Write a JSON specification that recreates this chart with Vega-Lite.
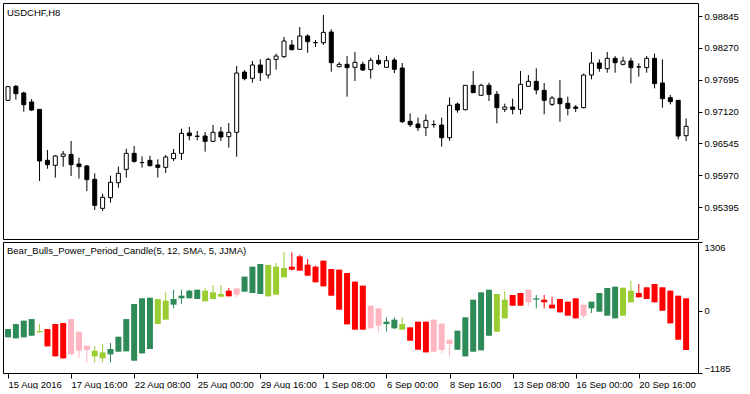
{
"$schema": "https://vega.github.io/schema/vega-lite/v6.json",
"padding": {"left": 2, "top": 2, "right": 0, "bottom": 0},
"background": "white",
"spacing": 3,
"bounds": "flush",
"config": {
  "view": {"stroke": "black", "strokeWidth": 1},
  "axis": {"labelFont": "Liberation Sans", "labelFontSize": 9.5, "labelColor": "black", "tickColor": "black", "domain": false, "grid": false, "title": null, "tickSize": 4, "labelPadding": 2, "labelOverlap": false},
  "title": {"font": "Liberation Sans", "fontSize": 9.5, "fontWeight": "normal", "color": "black", "anchor": "start", "frame": "group"}
},
"datasets": {
"ohlc": [
{"i":0,"o":0.97322,"h":0.97581,"l":0.97310,"c":0.97569},
{"i":1,"o":0.97575,"h":0.97599,"l":0.97334,"c":0.97442},
{"i":2,"o":0.97454,"h":0.97478,"l":0.97117,"c":0.97243},
{"i":3,"o":0.97292,"h":0.97346,"l":0.97129,"c":0.97147},
{"i":4,"o":0.97159,"h":0.97159,"l":0.95865,"c":0.96226},
{"i":5,"o":0.96238,"h":0.96425,"l":0.96087,"c":0.96160},
{"i":6,"o":0.96148,"h":0.96334,"l":0.95925,"c":0.96316},
{"i":7,"o":0.96310,"h":0.96406,"l":0.96124,"c":0.96352},
{"i":8,"o":0.96346,"h":0.96587,"l":0.95955,"c":0.96160},
{"i":9,"o":0.96172,"h":0.96286,"l":0.95907,"c":0.96124},
{"i":10,"o":0.96136,"h":0.96154,"l":0.95684,"c":0.95889},
{"i":11,"o":0.95895,"h":0.96003,"l":0.95341,"c":0.95425},
{"i":12,"o":0.95371,"h":0.95636,"l":0.95323,"c":0.95570},
{"i":13,"o":0.95564,"h":0.95961,"l":0.95473,"c":0.95841},
{"i":14,"o":0.95835,"h":0.96124,"l":0.95744,"c":0.96003},
{"i":15,"o":0.96075,"h":0.96449,"l":0.95925,"c":0.96364},
{"i":16,"o":0.96364,"h":0.96497,"l":0.96196,"c":0.96220},
{"i":17,"o":0.96199,"h":0.96310,"l":0.96105,"c":0.96196},
{"i":18,"o":0.96238,"h":0.96322,"l":0.96124,"c":0.96142},
{"i":19,"o":0.96154,"h":0.96256,"l":0.95925,"c":0.96111},
{"i":20,"o":0.96111,"h":0.96334,"l":0.96009,"c":0.96298},
{"i":21,"o":0.96268,"h":0.96443,"l":0.96226,"c":0.96364},
{"i":22,"o":0.96364,"h":0.96810,"l":0.96244,"c":0.96726},
{"i":23,"o":0.96732,"h":0.96840,"l":0.96599,"c":0.96683},
{"i":24,"o":0.96674,"h":0.96768,"l":0.96599,"c":0.96671},
{"i":25,"o":0.96677,"h":0.96750,"l":0.96394,"c":0.96581},
{"i":26,"o":0.96581,"h":0.96876,"l":0.96581,"c":0.96744},
{"i":27,"o":0.96750,"h":0.96840,"l":0.96587,"c":0.96659},
{"i":28,"o":0.96665,"h":0.96912,"l":0.96467,"c":0.96744},
{"i":29,"o":0.96744,"h":0.97942,"l":0.96304,"c":0.97815},
{"i":30,"o":0.97833,"h":0.97870,"l":0.97683,"c":0.97713},
{"i":31,"o":0.97719,"h":0.98032,"l":0.97641,"c":0.97960},
{"i":32,"o":0.97960,"h":0.98062,"l":0.97671,"c":0.97821},
{"i":33,"o":0.97779,"h":0.98092,"l":0.97713,"c":0.98062},
{"i":34,"o":0.98062,"h":0.98165,"l":0.97876,"c":0.98122},
{"i":35,"o":0.98110,"h":0.98466,"l":0.98092,"c":0.98393},
{"i":36,"o":0.98321,"h":0.98411,"l":0.98225,"c":0.98237},
{"i":37,"o":0.98243,"h":0.98646,"l":0.98243,"c":0.98484},
{"i":38,"o":0.98484,"h":0.98514,"l":0.98183,"c":0.98381},
{"i":39,"o":0.98366,"h":0.98411,"l":0.98285,"c":0.98363},
{"i":40,"o":0.98363,"h":0.98863,"l":0.98321,"c":0.98550},
{"i":41,"o":0.98556,"h":0.98604,"l":0.97839,"c":0.98002},
{"i":42,"o":0.97930,"h":0.98014,"l":0.97918,"c":0.97972},
{"i":43,"o":0.97972,"h":0.98122,"l":0.97388,"c":0.97912},
{"i":44,"o":0.97918,"h":0.98195,"l":0.97671,"c":0.98008},
{"i":45,"o":0.97972,"h":0.98020,"l":0.97852,"c":0.97870},
{"i":46,"o":0.97876,"h":0.98092,"l":0.97713,"c":0.98044},
{"i":47,"o":0.98044,"h":0.98141,"l":0.97960,"c":0.97984},
{"i":48,"o":0.97918,"h":0.98122,"l":0.97918,"c":0.98038},
{"i":49,"o":0.98050,"h":0.98092,"l":0.97815,"c":0.97882},
{"i":50,"o":0.97906,"h":0.97996,"l":0.96912,"c":0.96936},
{"i":51,"o":0.96942,"h":0.97087,"l":0.96840,"c":0.96882},
{"i":52,"o":0.96894,"h":0.97009,"l":0.96768,"c":0.96828},
{"i":53,"o":0.96828,"h":0.97069,"l":0.96677,"c":0.96960},
{"i":54,"o":0.96885,"h":0.96960,"l":0.96828,"c":0.96882},
{"i":55,"o":0.96876,"h":0.97009,"l":0.96485,"c":0.96647},
{"i":56,"o":0.96647,"h":0.97376,"l":0.96593,"c":0.97231},
{"i":57,"o":0.97255,"h":0.97280,"l":0.97099,"c":0.97147},
{"i":58,"o":0.97153,"h":0.97593,"l":0.97141,"c":0.97593},
{"i":59,"o":0.97593,"h":0.97852,"l":0.97460,"c":0.97460},
{"i":60,"o":0.97412,"h":0.97623,"l":0.97412,"c":0.97593},
{"i":61,"o":0.97593,"h":0.97641,"l":0.97310,"c":0.97430},
{"i":62,"o":0.97430,"h":0.97490,"l":0.96906,"c":0.97189},
{"i":63,"o":0.97159,"h":0.97261,"l":0.97111,"c":0.97201},
{"i":64,"o":0.97201,"h":0.97352,"l":0.97069,"c":0.97159},
{"i":65,"o":0.97159,"h":0.97852,"l":0.97069,"c":0.97611},
{"i":66,"o":0.97575,"h":0.97779,"l":0.97575,"c":0.97665},
{"i":67,"o":0.97665,"h":0.97900,"l":0.97430,"c":0.97508},
{"i":68,"o":0.97502,"h":0.97635,"l":0.97069,"c":0.97322},
{"i":69,"o":0.97249,"h":0.97400,"l":0.97219,"c":0.97364},
{"i":70,"o":0.97358,"h":0.97689,"l":0.96936,"c":0.97261},
{"i":71,"o":0.97268,"h":0.97388,"l":0.97051,"c":0.97177},
{"i":72,"o":0.97201,"h":0.97237,"l":0.97111,"c":0.97177},
{"i":73,"o":0.97189,"h":0.97803,"l":0.97177,"c":0.97779},
{"i":74,"o":0.97779,"h":0.98195,"l":0.97701,"c":0.97996},
{"i":75,"o":0.97996,"h":0.98062,"l":0.97839,"c":0.97900},
{"i":76,"o":0.97894,"h":0.98195,"l":0.97821,"c":0.98080},
{"i":77,"o":0.98080,"h":0.98122,"l":0.97821,"c":0.98002},
{"i":78,"o":0.97972,"h":0.98110,"l":0.97954,"c":0.98032},
{"i":79,"o":0.98032,"h":0.98092,"l":0.97629,"c":0.97912},
{"i":80,"o":0.97927,"h":0.97990,"l":0.97749,"c":0.97924},
{"i":81,"o":0.97912,"h":0.98122,"l":0.97821,"c":0.98080},
{"i":82,"o":0.98080,"h":0.98165,"l":0.97538,"c":0.97623},
{"i":83,"o":0.97635,"h":0.98062,"l":0.97189,"c":0.97352},
{"i":84,"o":0.97370,"h":0.97418,"l":0.97249,"c":0.97298},
{"i":85,"o":0.97322,"h":0.97322,"l":0.96617,"c":0.96677},
{"i":86,"o":0.96683,"h":0.96996,"l":0.96587,"c":0.96852}
],
"ind": [
{"i":0,"o":-507,"c":-349,"h":-349,"l":-507,"k":"DG"},
{"i":1,"o":-526,"c":-254,"h":-254,"l":-526,"k":"DG"},
{"i":2,"o":-507,"c":-190,"h":-190,"l":-507,"k":"DG"},
{"i":3,"o":-476,"c":-159,"h":-159,"l":-476,"k":"DG"},
{"i":4,"o":-412,"c":-387,"h":-254,"l":-412,"k":"YG"},
{"i":5,"o":-349,"c":-678,"h":-349,"l":-678,"k":"R"},
{"i":6,"o":-254,"c":-869,"h":-254,"l":-869,"k":"R"},
{"i":7,"o":-235,"c":-907,"h":-235,"l":-907,"k":"R"},
{"i":8,"o":-159,"c":-831,"h":-159,"l":-831,"k":"P"},
{"i":9,"o":-399,"c":-761,"h":-399,"l":-907,"k":"P"},
{"i":10,"o":-666,"c":-748,"h":-666,"l":-983,"k":"P"},
{"i":11,"o":-869,"c":-761,"h":-678,"l":-983,"k":"YG"},
{"i":12,"o":-907,"c":-793,"h":-634,"l":-983,"k":"YG"},
{"i":13,"o":-831,"c":-729,"h":-615,"l":-983,"k":"DG"},
{"i":14,"o":-780,"c":-495,"h":-495,"l":-780,"k":"DG"},
{"i":15,"o":-773,"c":-159,"h":-159,"l":-773,"k":"DG"},
{"i":16,"o":-951,"c":127,"h":127,"l":-951,"k":"DG"},
{"i":17,"o":-812,"c":235,"h":235,"l":-812,"k":"DG"},
{"i":18,"o":-729,"c":247,"h":247,"l":-729,"k":"DG"},
{"i":19,"o":-254,"c":222,"h":222,"l":-254,"k":"YG"},
{"i":20,"o":-171,"c":190,"h":349,"l":-171,"k":"YG"},
{"i":21,"o":114,"c":222,"h":399,"l":44,"k":"DG"},
{"i":22,"o":235,"c":285,"h":399,"l":127,"k":"DG"},
{"i":23,"o":235,"c":380,"h":399,"l":235,"k":"DG"},
{"i":24,"o":222,"c":399,"h":399,"l":222,"k":"DG"},
{"i":25,"o":178,"c":380,"h":425,"l":178,"k":"YG"},
{"i":26,"o":222,"c":349,"h":488,"l":222,"k":"YG"},
{"i":27,"o":266,"c":317,"h":488,"l":266,"k":"YG"},
{"i":28,"o":380,"c":273,"h":431,"l":273,"k":"R"},
{"i":29,"o":425,"c":304,"h":425,"l":254,"k":"P"},
{"i":30,"o":361,"c":647,"h":647,"l":361,"k":"DG"},
{"i":31,"o":336,"c":837,"h":837,"l":336,"k":"DG"},
{"i":32,"o":317,"c":888,"h":888,"l":317,"k":"DG"},
{"i":33,"o":273,"c":869,"h":869,"l":273,"k":"YG"},
{"i":34,"o":304,"c":837,"h":907,"l":304,"k":"YG"},
{"i":35,"o":634,"c":812,"h":1110,"l":634,"k":"YG"},
{"i":36,"o":837,"c":780,"h":1110,"l":767,"k":"R"},
{"i":37,"o":1033,"c":761,"h":1065,"l":761,"k":"R"},
{"i":38,"o":875,"c":666,"h":983,"l":666,"k":"R"},
{"i":39,"o":837,"c":539,"h":856,"l":539,"k":"R"},
{"i":40,"o":951,"c":463,"h":951,"l":463,"k":"R"},
{"i":41,"o":793,"c":285,"h":793,"l":285,"k":"R"},
{"i":42,"o":780,"c":19,"h":780,"l":19,"k":"R"},
{"i":43,"o":716,"c":-260,"h":716,"l":-260,"k":"R"},
{"i":44,"o":552,"c":-361,"h":552,"l":-361,"k":"R"},
{"i":45,"o":476,"c":-361,"h":476,"l":-361,"k":"R"},
{"i":46,"o":95,"c":-336,"h":95,"l":-336,"k":"P"},
{"i":47,"o":44,"c":-285,"h":44,"l":-412,"k":"P"},
{"i":48,"o":-254,"c":-209,"h":-127,"l":-399,"k":"DG"},
{"i":49,"o":-336,"c":-171,"h":-127,"l":-349,"k":"DG"},
{"i":50,"o":-361,"c":-254,"h":-127,"l":-361,"k":"YG"},
{"i":51,"o":-317,"c":-571,"h":-317,"l":-571,"k":"R"},
{"i":52,"o":-209,"c":-742,"h":-209,"l":-742,"k":"R"},
{"i":53,"o":-209,"c":-793,"h":-209,"l":-793,"k":"R"},
{"i":54,"o":-171,"c":-780,"h":-171,"l":-780,"k":"P"},
{"i":55,"o":-247,"c":-748,"h":-247,"l":-818,"k":"P"},
{"i":56,"o":-552,"c":-634,"h":-552,"l":-869,"k":"P"},
{"i":57,"o":-742,"c":-380,"h":-380,"l":-742,"k":"DG"},
{"i":58,"o":-869,"c":-127,"h":-127,"l":-869,"k":"DG"},
{"i":59,"o":-780,"c":209,"h":209,"l":-780,"k":"DG"},
{"i":60,"o":-754,"c":349,"h":349,"l":-754,"k":"DG"},
{"i":61,"o":-476,"c":399,"h":399,"l":-476,"k":"DG"},
{"i":62,"o":-399,"c":317,"h":317,"l":-399,"k":"YG"},
{"i":63,"o":-146,"c":209,"h":361,"l":-146,"k":"YG"},
{"i":64,"o":298,"c":95,"h":298,"l":95,"k":"R"},
{"i":65,"o":336,"c":95,"h":336,"l":95,"k":"R"},
{"i":66,"o":399,"c":159,"h":399,"l":82,"k":"P"},
{"i":67,"o":209,"c":235,"h":298,"l":44,"k":"DG"},
{"i":68,"o":209,"c":159,"h":298,"l":44,"k":"R"},
{"i":69,"o":114,"c":44,"h":266,"l":44,"k":"R"},
{"i":70,"o":222,"c":-32,"h":222,"l":-32,"k":"R"},
{"i":71,"o":171,"c":-95,"h":171,"l":-95,"k":"R"},
{"i":72,"o":235,"c":-146,"h":235,"l":-146,"k":"R"},
{"i":73,"o":114,"c":-95,"h":114,"l":-139,"k":"P"},
{"i":74,"o":44,"c":171,"h":171,"l":-44,"k":"DG"},
{"i":75,"o":-19,"c":336,"h":336,"l":-19,"k":"DG"},
{"i":76,"o":-95,"c":431,"h":431,"l":-95,"k":"DG"},
{"i":77,"o":-146,"c":456,"h":456,"l":-146,"k":"DG"},
{"i":78,"o":-95,"c":437,"h":437,"l":-95,"k":"YG"},
{"i":79,"o":159,"c":380,"h":571,"l":159,"k":"YG"},
{"i":80,"o":336,"c":254,"h":507,"l":254,"k":"R"},
{"i":81,"o":444,"c":222,"h":444,"l":222,"k":"R"},
{"i":82,"o":507,"c":159,"h":507,"l":159,"k":"R"},
{"i":83,"o":444,"c":0,"h":444,"l":0,"k":"R"},
{"i":84,"o":380,"c":-241,"h":380,"l":-241,"k":"R"},
{"i":85,"o":285,"c":-552,"h":285,"l":-552,"k":"R"},
{"i":86,"o":235,"c":-748,"h":235,"l":-748,"k":"R"}
]
},
"vconcat": [
{
  "width": 695, "height": 236,
  "title": {"text": "USDCHF,H8", "offset": -16, "dx": 4, "dy": -2},
  "data": {"name": "ohlc"},
  "encoding": {"x": {"field": "i", "type": "quantitative", "scale": {"domain": [0, 86.875], "nice": false, "zero": false}, "axis": null}},
  "layer": [
    {"mark": {"type": "rule", "color": "black", "strokeWidth": 1, "clip": true},
     "encoding": {"y": {"field": "l", "type": "quantitative", "scale": {"domain": [0.94817, 0.9908], "nice": false, "zero": false},
       "axis": {"orient": "right", "values": [0.98845, 0.98270, 0.97695, 0.97120, 0.96545, 0.95970, 0.95395], "format": ".5f", "labelOverlap": false, "labelBound": false}},
       "y2": {"field": "h"}}},
    {"mark": {"type": "bar", "size": 4, "stroke": "black", "strokeWidth": 1, "clip": true},
     "encoding": {"y": {"field": "o", "type": "quantitative", "axis": {"orient": "right", "values": [0.98845, 0.98270, 0.97695, 0.97120, 0.96545, 0.95970, 0.95395], "format": ".5f", "labelOverlap": false}}, "y2": {"field": "c"},
       "fill": {"condition": {"test": "datum.c >= datum.o", "value": "white"}, "value": "black"}}}
  ]
},
{
  "width": 695, "height": 131,
  "title": {"text": "Bear_Bulls_Power_Period_Candle(5, 12, SMA, 5, JJMA)", "offset": -16, "dx": 4, "dy": -2},
  "data": {"name": "ind"},
  "encoding": {"x": {"field": "i", "type": "quantitative", "scale": {"domain": [0, 86.875], "nice": false, "zero": false},
     "axis": {"values": [0, 8, 16, 24, 32, 40, 48, 56, 64, 72, 80], "labelAlign": "left", "tickSize": 5, "labelPadding": 1, "labelOverlap": false, "labelFlush": false,
       "labelExpr": "['15 Aug 2016','17 Aug 16:00','22 Aug 08:00','25 Aug 00:00','29 Aug 16:00','1 Sep 08:00','6 Sep 00:00','8 Sep 16:00','13 Sep 08:00','16 Sep 00:00','20 Sep 16:00'][round(datum.value/8)]"}}},
  "layer": [
    {"mark": {"type": "rule", "color": "#C0C0C0", "strokeDash": [3, 3], "strokeWidth": 1},
     "encoding": {"y": {"datum": 0, "type": "quantitative"}}},
    {"mark": {"type": "rule", "strokeWidth": 1, "clip": true},
     "encoding": {"y": {"field": "l", "type": "quantitative", "scale": {"domain": [-1185, 1306], "nice": false, "zero": false},
       "axis": {"orient": "right", "values": [1306, 0, -1185], "format": "d", "labelFlush": true}},
       "y2": {"field": "h"},
       "color": {"field": "k", "type": "nominal", "scale": {"domain": ["DG", "YG", "R", "P"], "range": ["#2E8B57", "#9ACD32", "#FF0000", "#FFB6C1"]}, "legend": null}}},
    {"mark": {"type": "bar", "size": 6, "clip": true},
     "encoding": {"y": {"field": "o", "type": "quantitative"}, "y2": {"field": "c"},
       "color": {"field": "k", "type": "nominal", "legend": null}}}
  ]
}
]
}
